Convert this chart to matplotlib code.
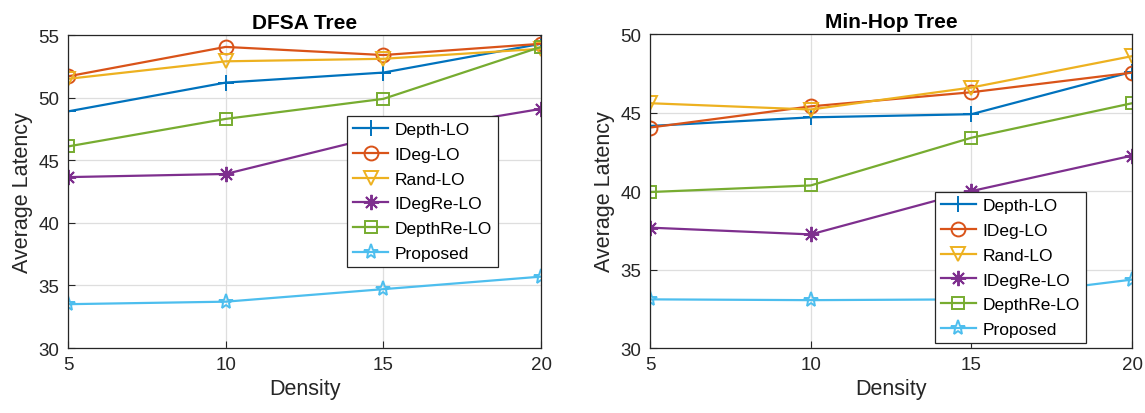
import matplotlib
matplotlib.use("Agg")
import matplotlib.pyplot as plt

plt.rcParams['font.family'] = ['Liberation Sans', 'DejaVu Sans']

density = [5, 10, 15, 20]
series_names = ['Depth-LO', 'IDeg-LO', 'Rand-LO', 'IDegRe-LO', 'DepthRe-LO', 'Proposed']

dfsa_depth = [48.9, 51.2, 52.0, 54.3]
dfsa_ideg = [51.7, 54.05, 53.4, 54.3]
dfsa_rand = [51.5, 52.9, 53.1, 53.9]
dfsa_idegre = [43.65, 43.9, 47.0, 49.1]
dfsa_depthre = [46.1, 48.3, 49.9, 54.05]
dfsa_proposed = [33.5, 33.7, 34.7, 35.7]

mh_depth = [44.15, 44.7, 44.9, 47.6]
mh_ideg = [44.05, 45.4, 46.3, 47.55]
mh_rand = [45.6, 45.2, 46.6, 48.6]
mh_idegre = [37.67, 37.24, 40.0, 42.26]
mh_depthre = [39.94, 40.36, 43.4, 45.6]
mh_proposed = [33.1, 33.05, 33.1, 34.36]

colors = [(0, 0.447, 0.741), (0.85, 0.325, 0.098), (0.929, 0.694, 0.125),
          (0.494, 0.184, 0.556), (0.466, 0.674, 0.188), (0.301, 0.745, 0.933)]
markers = ['+', 'o', 'v', (8, 2, 0), 's', '*']
msizes = [12, 10, 10, 11, 9, 11]

fig = plt.figure(figsize=(11.45, 4.14), dpi=100)
ax1 = fig.add_axes([0.0594, 0.157, 0.4131, 0.756])
ax2 = fig.add_axes([0.5677, 0.157, 0.4210, 0.758])

def draw(ax, data, title, yticks, legend_anchor):
    for vals, name, c, m, ms in zip(data, series_names, colors, markers, msizes):
        ax.plot(density, vals, color=c, marker=m, markersize=ms, linewidth=1.6,
                markerfacecolor='none', markeredgecolor=c, markeredgewidth=1.4,
                label=name)
    ax.set_xlim(5, 20)
    ax.set_ylim(yticks[0], yticks[-1])
    ax.set_xticks(density)
    ax.set_yticks(yticks)
    ax.grid(True, color='#dedede', linewidth=0.9)
    ax.set_axisbelow(True)
    ax.tick_params(labelsize=13.5, direction='in', length=5, colors='#262626', pad=6)
    for s in ax.spines.values():
        s.set_color('#262626')
        s.set_linewidth(0.9)
    ax.set_title(title, fontsize=15, fontweight='bold', pad=5)
    ax.set_xlabel('Density', fontsize=15.5, color='#262626', labelpad=3)
    ax.set_ylabel('Average Latency', fontsize=15.5, color='#262626', labelpad=4)
    leg = ax.legend(loc='lower left', bbox_to_anchor=legend_anchor, fontsize=12.5,
                    frameon=True, fancybox=False, edgecolor='#262626', framealpha=1,
                    handlelength=2.0, handletextpad=0.4, labelspacing=0.55,
                    borderpad=0.35, borderaxespad=0)
    leg.get_frame().set_linewidth(0.9)
    leg.set_zorder(10)

draw(ax1, [dfsa_depth, dfsa_ideg, dfsa_rand, dfsa_idegre, dfsa_depthre, dfsa_proposed],
     'DFSA Tree', [30, 35, 40, 45, 50, 55], (0.59, 0.259))
draw(ax2, [mh_depth, mh_ideg, mh_rand, mh_idegre, mh_depthre, mh_proposed],
     'Min-Hop Tree', [30, 35, 40, 45, 50], (0.591, 0.016))

fig.savefig('out.png', dpi=100)
